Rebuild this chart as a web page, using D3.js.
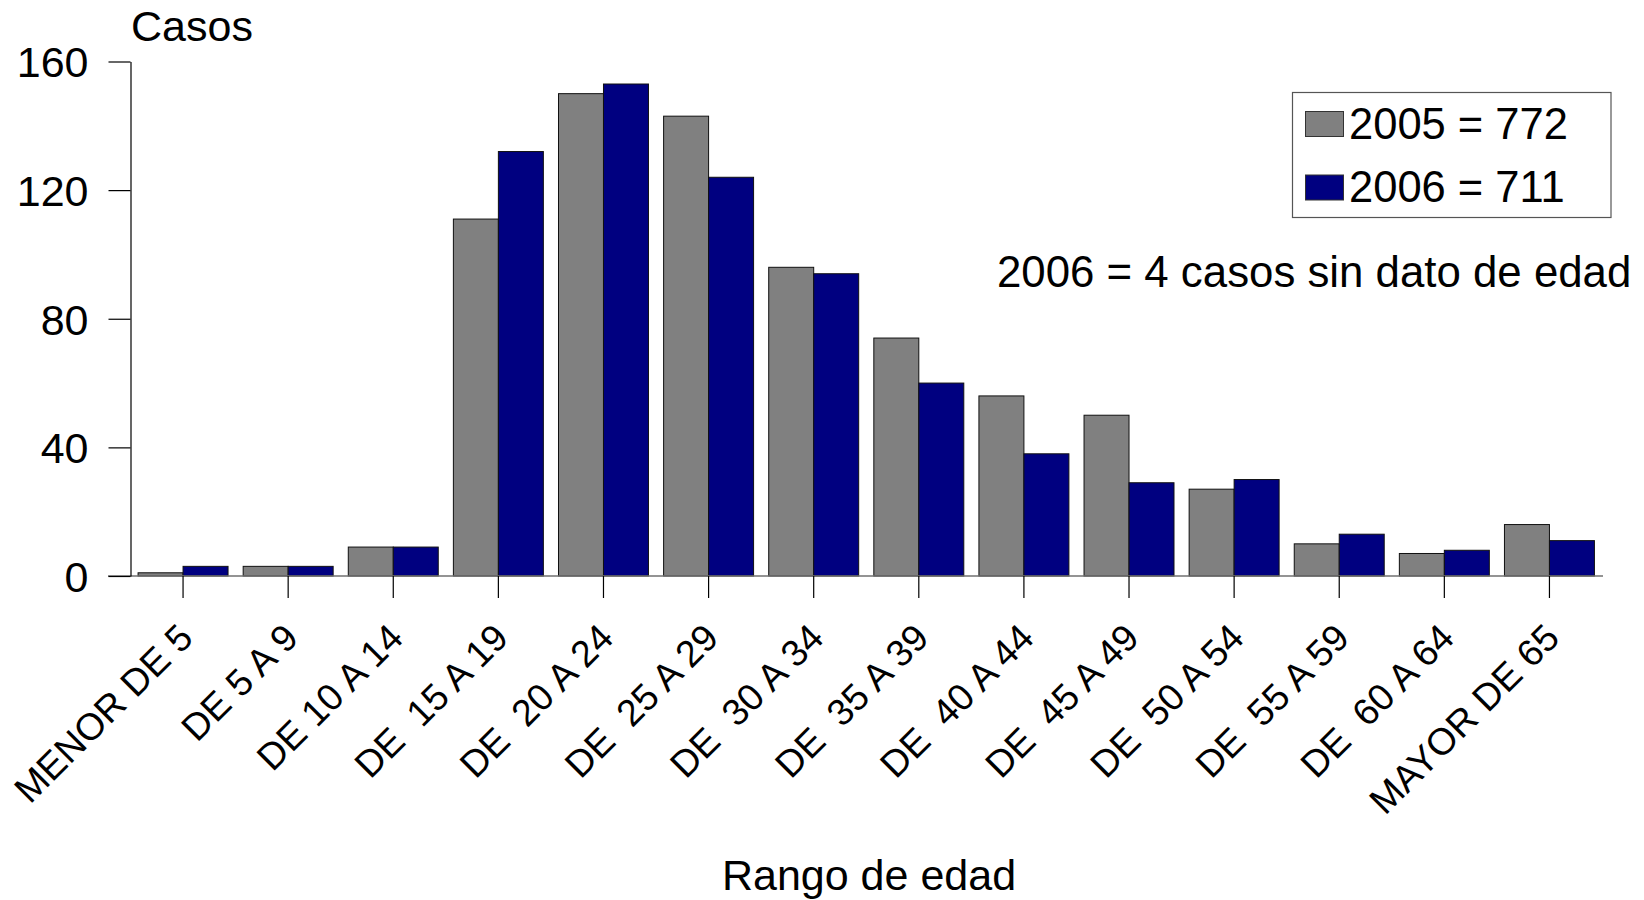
<!DOCTYPE html>
<html>
<head>
<meta charset="utf-8">
<script src="https://cdn.jsdelivr.net/npm/d3@7"></script>
<style>
  html, body { margin: 0; padding: 0; background: #fff; }
  svg { display: block; }
  text { font-family: "Liberation Sans", Arial, Helvetica, sans-serif; fill: #000; white-space: pre; }
</style>
</head>
<body>
<svg id="chart" width="1644" height="900"></svg>
<script>
const categories = [
  "MENOR DE 5", "DE 5 A 9", "DE 10 A 14", "DE  15 A 19", "DE  20 A 24",
  "DE  25 A 29", "DE  30 A 34", "DE  35 A 39", "DE  40 A 44", "DE  45 A 49",
  "DE  50 A 54", "DE  55 A 59", "DE  60 A 64", "MAYOR DE 65"
];
const seriesNames = ["2005 = 772", "2006 = 711"];
const values2005 = [1, 3, 9, 111, 150, 143, 96, 74, 56, 50, 27, 10, 7, 16];
const values2006 = [3, 3, 9, 132, 153, 124, 94, 60, 38, 29, 30, 13, 8, 11];
const yTicks = [0, 40, 80, 120, 160];
const seriesColors = ["#808080", "#000080"];
const yTitle = "Casos";
const xTitle = "Rango de edad";
const note = "2006 = 4 casos sin dato de edad";

const svg = d3.select("#chart");
const x0 = 130.5, x1 = 1602, yBase = 576, yTop = 61.5;

const x = d3.scaleBand().domain(categories).range([x0, x1])
  .paddingInner(0.144).paddingOuter(0.072);
const xs = d3.scaleBand().domain([0, 1]).range([0, x.bandwidth()]);
const y = d3.scaleLinear().domain([0, 160]).range([yBase, yTop]);

const series = [values2005, values2006];

// bars
series.forEach((vals, si) => {
  svg.append("g").selectAll("rect").data(categories).join("rect")
    .attr("x", (c) => x(c) + xs(si))
    .attr("y", (c, i) => y(vals[i]))
    .attr("width", xs.bandwidth())
    .attr("height", (c, i) => y(0) - y(vals[i]))
    .attr("fill", seriesColors[si])
    .attr("stroke", "#111")
    .attr("stroke-width", 1);
});

// x axis baseline
svg.append("line")
  .attr("x1", 108).attr("x2", x1 + 1)
  .attr("y1", y(0)).attr("y2", y(0))
  .attr("stroke", "#707070").attr("stroke-width", 1.5);

// y axis
const yAxis = d3.axisLeft(y).tickValues(yTicks).tickSize(22).tickSizeOuter(0).tickPadding(20);
const gy = svg.append("g").attr("transform", `translate(${x0},0)`).call(yAxis);
gy.select(".domain").attr("stroke", "#000").attr("stroke-width", 1.2);
gy.selectAll(".tick line").attr("stroke", "#000").attr("stroke-width", 1.2);
gy.selectAll(".tick text").attr("font-size", 43).attr("dy", "0.36em")
  .style("font-family", '"Liberation Sans", Arial, sans-serif');

// x axis ticks + labels
const xAxis = d3.axisBottom(x).tickSize(22).tickSizeOuter(0).tickFormat(() => "");
const gx = svg.append("g").attr("transform", `translate(0,${yBase})`).call(xAxis);
gx.select(".domain").remove();
gx.selectAll(".tick line").attr("stroke", "#000").attr("stroke-width", 1.2);

svg.append("g").selectAll("text").data(categories).join("text")
  .attr("transform", (c) => `translate(${x(c) + x.bandwidth() / 2 + 12},${yBase + 64}) rotate(-45)`)
  .attr("text-anchor", "end")
  .attr("font-size", 37.5)
  .text((c) => c);

// titles
svg.append("text").attr("x", 131).attr("y", 41).attr("font-size", 43).text(yTitle);
svg.append("text").attr("x", 869).attr("y", 890).attr("text-anchor", "middle").attr("font-size", 43).text(xTitle);
svg.append("text").attr("x", 997).attr("y", 287).attr("font-size", 43.8).text(note);

// legend
const lg = svg.append("g");
lg.append("rect").attr("x", 1292.5).attr("y", 92.5).attr("width", 318.5).attr("height", 125)
  .attr("fill", "#fff").attr("stroke", "#555").attr("stroke-width", 1.2);
const legY = d3.scalePoint().domain(seriesNames).range([111.5, 175]);
seriesNames.forEach((n, i) => {
  lg.append("rect").attr("x", 1305.5).attr("y", legY(n)).attr("width", 38).attr("height", 25)
    .attr("fill", seriesColors[i]).attr("stroke", "#333").attr("stroke-width", 1);
  lg.append("text").attr("x", 1349).attr("y", legY(n) + 27).attr("font-size", 43.5).text(n);
});
</script>
</body>
</html>
